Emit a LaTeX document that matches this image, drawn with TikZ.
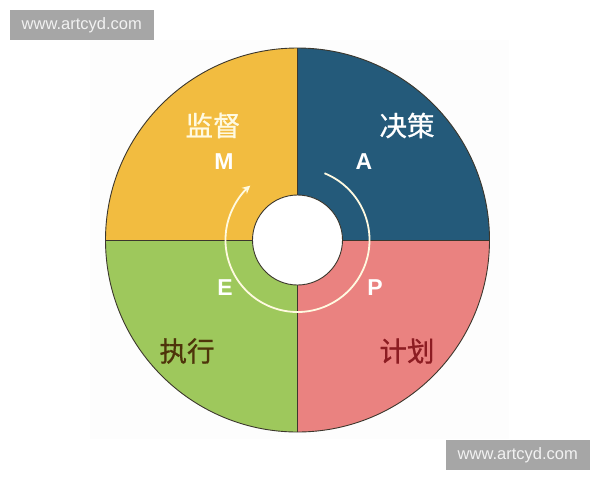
\documentclass[tikz,border=0pt]{standalone}
\usepackage{fontspec}
\setmainfont{Liberation Sans}
\newfontfamily\cjk{Noto Sans CJK SC}[FakeBold=0.8]
\usetikzlibrary{arrows.meta}
\definecolor{cyellow}{RGB}{242,188,64}
\definecolor{cblue}{RGB}{36,90,122}
\definecolor{cpink}{RGB}{234,130,128}
\definecolor{cgreen}{RGB}{158,200,92}
\definecolor{edgec}{RGB}{60,55,45}
\definecolor{wmgray}{RGB}{166,166,166}
\definecolor{wmtext}{RGB}{242,242,242}
\definecolor{bgfaint}{RGB}{253,253,253}
\definecolor{cream}{RGB}{255,250,225}
\definecolor{brownc}{RGB}{78,52,10}
\definecolor{redc}{RGB}{140,28,34}
\tikzset{
  edge/.style={draw=edgec, line width=0.9pt},
  cjklabel/.style={font=\cjk\fontsize{27.5}{29}\selectfont, inner sep=0pt},
  letter/.style={font=\fontsize{23}{25}\selectfont\bfseries, text=white, inner sep=0pt},
  wmbox/.style={fill=wmgray, draw=none},
  wmlabel/.style={font=\fontsize{16.5}{18}\selectfont, text=wmtext, inner sep=0pt},
  cyclearrow/.style={draw=cream, line width=1.8pt, -{Stealth[length=8pt,width=8pt]}}
}
\begin{document}
\begin{tikzpicture}[x=1pt,y=-1pt]
\useasboundingbox (0,0) rectangle (600,480);
\fill[white] (0,0) rectangle (600,480);
\fill[bgfaint] (90,40) rectangle (509,439);
\coordinate (C) at (297.5,240);
\begin{scope}[shift={(C)}, yscale=-1]
  \fill[cblue]   (0,0) -- (0,192) arc[start angle=90, end angle=0, radius=192] -- cycle;
  \fill[cyellow] (0,0) -- (-192,0) arc[start angle=180, end angle=90, radius=192] -- cycle;
  \fill[cgreen]  (0,0) -- (0,-192) arc[start angle=270, end angle=180, radius=192] -- cycle;
  \fill[cpink]   (0,0) -- (192,0) arc[start angle=360, end angle=270, radius=192] -- cycle;
  \draw[edge] (-192,0) -- (192,0);
  \draw[edge] (0,-192) -- (0,192);
  \draw[edge] (0,0) circle[radius=192];
  \draw[edge, fill=white] (0,0) circle[radius=45];
  \coordinate (arcstart) at (68:72);
  \draw[cyclearrow] (arcstart) arc[start angle=68, end angle=-229, radius=72] coordinate (arcend);
\end{scope}
\node[cjklabel, text=cream] (jiandu) at (213,125.5) {监督};
\node[cjklabel, text=white] (juece) at (407,125.5) {决策};
\node[cjklabel, text=brownc] (zhixing) at (187,351) {执行};
\node[cjklabel, text=redc] (jihua) at (407,351) {计划};
\node[letter] (M) at (224,161.5) {M};
\node[letter] (A) at (364,161.5) {A};
\node[letter] (E) at (225,287.5) {E};
\node[letter] (P) at (375,287.5) {P};
\fill[wmbox] (10,10) rectangle (153.5,40);
\node[wmlabel] (wm1) at (81.75,25) {www.artcyd.com};
\fill[wmbox] (446,440) rectangle (589.5,469.5);
\node[wmlabel] (wm2) at (517.75,454.75) {www.artcyd.com};
\end{tikzpicture}
\end{document}
